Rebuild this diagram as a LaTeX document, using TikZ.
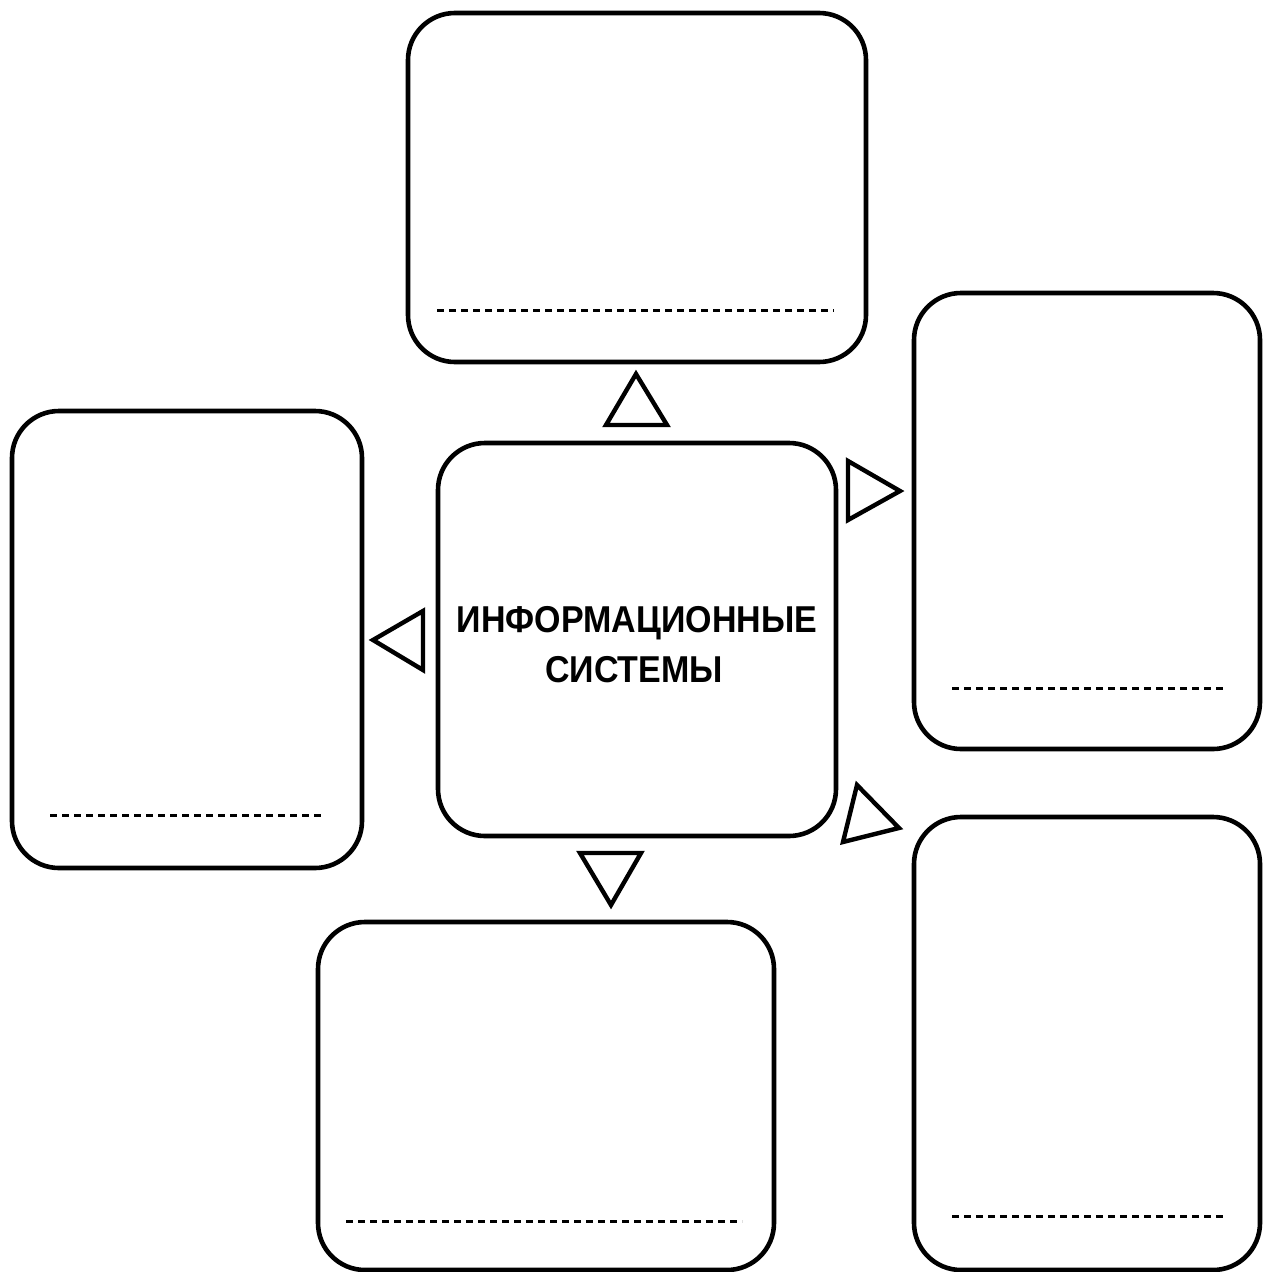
\documentclass[tikz,border=0pt]{standalone}
\usepackage{fontspec}
\setmainfont{Liberation Sans}
\begin{document}
\begin{tikzpicture}[x=1pt,y=-1pt,
  box/.style={draw=black,line width=4.6pt,rounded corners=47pt,inner sep=0pt,outer sep=0pt,anchor=north west},
  dashline/.style={line width=3pt,dash pattern=on 7pt off 5pt},
  tri/.style={draw=black,line width=4.4pt,line join=miter},
  title/.style={anchor=base,inner sep=0pt,font=\fontsize{34}{40}\selectfont\bfseries,yscale=1.1}]
\useasboundingbox (0,0) rectangle (1262,1272);
\fill[white] (0,0) rectangle (1262,1272);
% boxes
\node[box,minimum width=458pt,minimum height=349pt] (top) at (408,13) {};
\node[box,minimum width=346pt,minimum height=456pt] (ru) at (914,293) {};
\node[box,minimum width=350pt,minimum height=457pt] (lf) at (12,411) {};
\node[box,minimum width=398pt,minimum height=393pt] (ctr) at (438,443) {};
\node[box,minimum width=456pt,minimum height=348pt] (bot) at (318,922) {};
\node[box,minimum width=346pt,minimum height=453pt] (rl) at (914,817) {};
% dashed lines
\draw[dashline] (437,310) -- (834,310);
\draw[dashline] (952,688) -- (1226,688);
\draw[dashline] (50,815) -- (324,815);
\draw[dashline] (346,1221) -- (742,1221);
\draw[dashline] (952,1216) -- (1226,1216);
% triangles
\draw[tri] (636,374) -- (667,425) -- (606,425) -- cycle;
\draw[tri] (848,461) -- (900,491) -- (848,520) -- cycle;
\draw[tri] (373,640) -- (423,611) -- (423,670) -- cycle;
\draw[tri] (580,853) -- (641,853) -- (611,905) -- cycle;
\draw[tri] (857,785) -- (899,828) -- (843,842) -- cycle;
% text
\node[title] (t1) at (637,632) {ИНФОРМАЦИОННЫЕ};
\node[title] (t2) at (634,682) {СИСТЕМЫ};
\end{tikzpicture}
\end{document}
